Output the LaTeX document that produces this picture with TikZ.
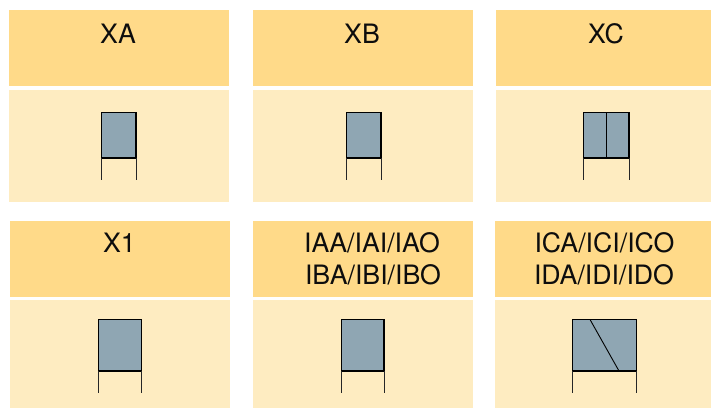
\documentclass[tikz,border=0pt]{standalone}
\usepackage{fontspec}
\setmainfont{TeX Gyre Heros}
\definecolor{hdrc}{HTML}{FFDA89}
\definecolor{bodc}{HTML}{FEECC1}
\definecolor{boxc}{HTML}{8FA6B3}
\tikzset{
  panel/.style={inner sep=0pt,outer sep=0pt,draw=none},
  hdrbox/.style={panel,fill=hdrc},
  bodbox/.style={panel,fill=bodc},
  sym/.style={inner sep=0pt,outer sep=0pt,draw=black,line width=1.1pt,fill=boxc},
  leg/.style={draw=black!85,line width=0.8pt},
  inner/.style={draw=black,line width=0.9pt},
  lab/.style={anchor=base,inner sep=0pt,font=\fontsize{26.7}{32}\selectfont,text=black!95}
}
\newcommand{\panelat}[6]{% name, x0, x1, y0, y1, style
  \node[#6,minimum width={(#3-#2)*1pt},minimum height={(#5-#4)*1pt}] (#1) at ({(#2+#3)/2},{(#4+#5)/2}) {};}
\begin{document}
\begin{tikzpicture}[x=1pt,y=-1pt]
\useasboundingbox[fill=white] (0,0) rectangle (711,408);
% row 1 panels
\panelat{h1}{9}{229}{10}{86}{hdrbox}
\panelat{b1}{9}{229}{90}{202}{bodbox}
\panelat{h2}{253}{473}{10}{86}{hdrbox}
\panelat{b2}{253}{473}{90}{202}{bodbox}
\panelat{h3}{496}{711}{10}{86}{hdrbox}
\panelat{b3}{496}{711}{90}{202}{bodbox}
% row 2 panels
\panelat{h4}{10}{230}{221}{297}{hdrbox}
\panelat{b4}{10}{230}{300}{408}{bodbox}
\panelat{h5}{253}{473}{221}{297}{hdrbox}
\panelat{b5}{253}{473}{300}{408}{bodbox}
\panelat{h6}{495}{711}{221}{297}{hdrbox}
\panelat{b6}{495}{711}{300}{408}{bodbox}
% labels
\node[lab] (t1) at (118,43) {XA};
\node[lab] (t2) at (362,43) {XB};
\node[lab] (t3) at (606,43) {XC};
\node[lab] (t4) at (119.5,252) {X1};
\node[lab] (t5a) at (372,252) {IAA/IAI/IAO};
\node[lab] (t5b) at (373,284) {IBA/IBI/IBO};
\node[lab] (t6a) at (604.5,252) {ICA/ICI/ICO};
\node[lab] (t6b) at (604,284) {IDA/IDI/IDO};
% symbols
\panelat{s1}{101.5}{136}{112.5}{158}{sym}
\panelat{s2}{346.5}{381}{112.5}{158}{sym}
\panelat{s3}{583.5}{629}{112.5}{158}{sym}
\panelat{s4}{98.5}{141.5}{319.5}{371}{sym}
\panelat{s5}{341.5}{384}{319.5}{371}{sym}
\panelat{s6}{572.5}{636.5}{319.5}{371}{sym}
% leg ends
\foreach \n/\xa/\xb/\y in {1/101.5/136/180,2/346.5/381/180,3/583.5/629/180,4/98.5/141.5/393,5/341.5/384/393,6/572.5/636.5/393}{
  \coordinate (e\n l) at (\xa,\y);
  \coordinate (e\n r) at (\xb,\y);
  \draw[leg] (s\n.south west) -- (e\n l);
  \draw[leg] (s\n.south east) -- (e\n r);
}
% internal divisions
\draw[inner] (s3.north) -- (s3.south);
\coordinate (d6a) at (590,319.5);
\coordinate (d6b) at (619,371);
\draw[inner] (d6a) -- (d6b);
\end{tikzpicture}
\end{document}
